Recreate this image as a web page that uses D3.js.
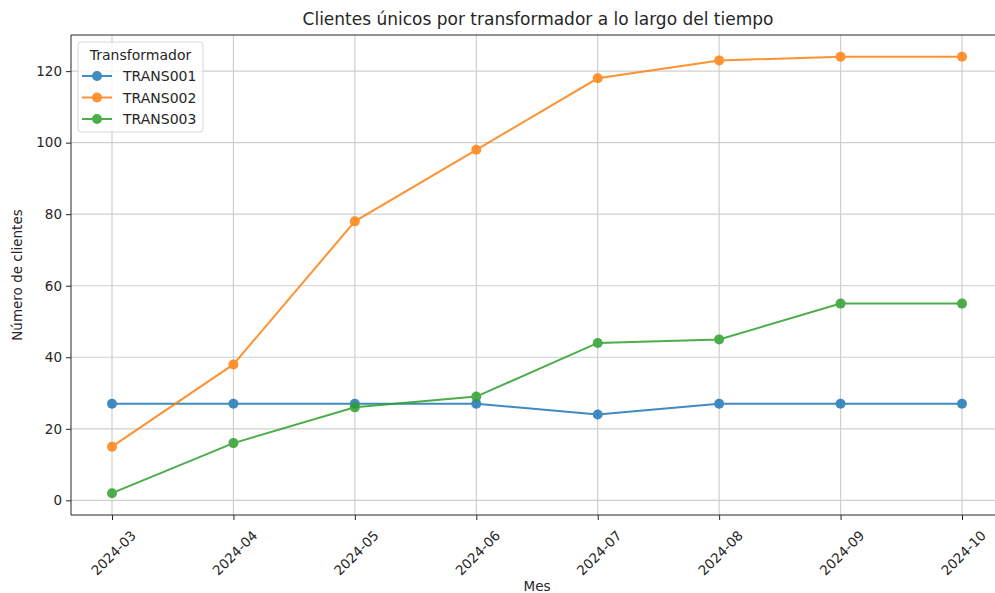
<!DOCTYPE html>
<html><head><meta charset="utf-8">
<script src="https://cdn.jsdelivr.net/npm/d3@7"></script>
<style>html,body{margin:0;padding:0;background:#fff;overflow:hidden;} svg{display:block;} text{font-family:"DejaVu Sans",sans-serif;fill:#262626;}</style>
</head><body>
<svg id="c" width="995" height="593"></svg>
<script>
const months = ["2024-03","2024-04","2024-05","2024-06","2024-07","2024-08","2024-09","2024-10"];
const seriesNames = ["TRANS001","TRANS002","TRANS003"];
const trans001 = [27,27,27,27,24,27,27,27];
const trans002 = [15,38,78,98,118,123,124,124];
const trans003 = [2,16,26,29,44,45,55,55];
const yTicks = [0,20,40,60,80,100,120];
const colors = ["#1f77b4","#ff7f0e","#2ca02c"];
const title = "Clientes únicos por transformador a lo largo del tiempo";
const xLabel = "Mes", yLabel = "Número de clientes", legendTitle = "Transformador";

const series = [trans001, trans002, trans003];
const svg = d3.select("#c");
const L = 71, R = 1004, T = 35, B = 515;
const x = d3.scalePoint().domain(months).range([112, 962]);
const y = d3.scaleLinear().domain([-4.1, 130.1]).range([B, T]);

// grid
const g = svg.append("g");
g.selectAll(".gx").data(months).enter().append("line")
  .attr("x1", d=>x(d)).attr("x2", d=>x(d)).attr("y1", T).attr("y2", B)
  .attr("stroke", "#cfcfcf").attr("stroke-width", 1.2);
g.selectAll(".gy").data(yTicks).enter().append("line")
  .attr("x1", L).attr("x2", R).attr("y1", d=>y(d)).attr("y2", d=>y(d))
  .attr("stroke", "#cfcfcf").attr("stroke-width", 1.2);

// axes
const xa = svg.append("g").attr("transform", `translate(0,${B})`)
  .call(d3.axisBottom(x).tickSize(5).tickPadding(4));
xa.select(".domain").remove();
xa.selectAll("line").attr("stroke", "#262626");
xa.selectAll("text").style("font-size", "13.5px").attr("text-anchor", "middle")
  .attr("dy", "0.35em").attr("y", 0)
  .attr("transform", "translate(1,38) rotate(-45)");

const ya = svg.append("g").attr("transform", `translate(${L},0)`)
  .call(d3.axisLeft(y).tickValues(yTicks).tickSize(5).tickPadding(4));
ya.select(".domain").remove();
ya.selectAll("line").attr("stroke", "#262626");
ya.selectAll("text").style("font-size", "13.5px");

// spines (left, top, bottom)
svg.append("path").attr("d", `M${R},${T}H${L}V${B}H${R}`)
  .attr("fill", "none").attr("stroke", "#262626").attr("stroke-width", 1);

// lines
const line = d3.line().x((d,i)=>x(months[i])).y(d=>y(d));
series.forEach((s, k) => {
  const gg = svg.append("g").attr("opacity", 0.85);
  gg.append("path").datum(s).attr("d", line).attr("fill", "none")
    .attr("stroke", colors[k]).attr("stroke-width", 2);
  gg.selectAll("circle").data(s).enter().append("circle")
    .attr("cx", (d,i)=>x(months[i])).attr("cy", d=>y(d)).attr("r", 5)
    .attr("fill", colors[k]);
});

// titles
svg.append("text").attr("x", 538).attr("y", 25).attr("text-anchor", "middle")
  .style("font-size", "17px").text(title);
svg.append("text").attr("x", 537).attr("y", 591).attr("text-anchor", "middle")
  .style("font-size", "13.5px").text(xLabel);
svg.append("text").attr("transform", "translate(22,275) rotate(-90)").attr("text-anchor", "middle")
  .style("font-size", "13.5px").text(yLabel);

// legend
const lg = svg.append("g");
lg.append("rect").attr("x", 78).attr("y", 42).attr("width", 125).attr("height", 90).attr("rx", 3)
  .attr("fill", "#fff").attr("fill-opacity", 0.8).attr("stroke", "#d6d6d6");
lg.append("text").attr("x", 140.5).attr("y", 60).attr("text-anchor", "middle")
  .style("font-size", "14px").text(legendTitle);
seriesNames.forEach((n, k) => {
  const yy = 76 + k*21.5;
  const e = lg.append("g").attr("opacity", 0.85);
  e.append("line").attr("x1", 82).attr("x2", 112).attr("y1", yy).attr("y2", yy)
    .attr("stroke", colors[k]).attr("stroke-width", 2);
  e.append("circle").attr("cx", 97).attr("cy", yy).attr("r", 5).attr("fill", colors[k]);
  lg.append("text").attr("x", 123).attr("y", yy + 5).style("font-size", "14px").text(n);
});
</script>
</body></html>
